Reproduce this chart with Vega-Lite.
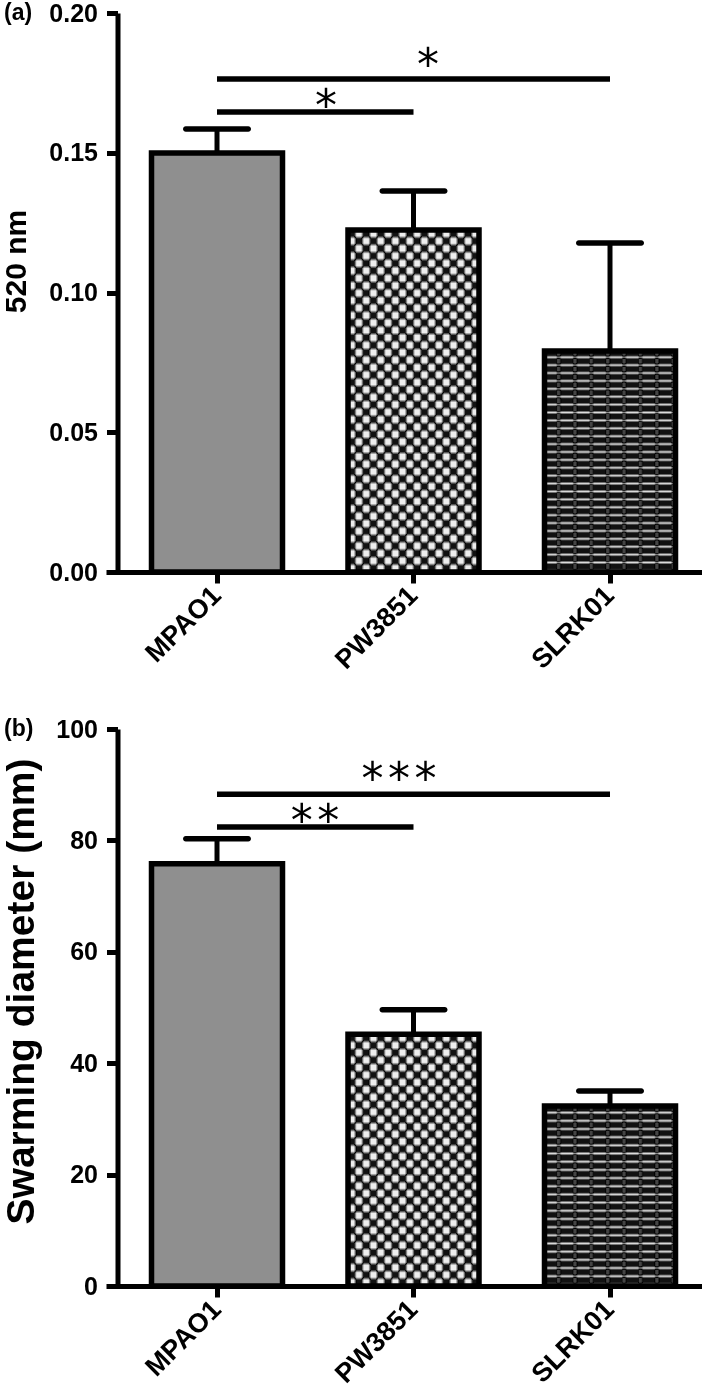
{
  "$schema": "https://vega.github.io/schema/vega-lite/v6.json",
  "padding": {"left": 1, "top": 1, "right": 0, "bottom": 0},
  "background": "white",
  "spacing": 43,
  "config": {
    "view": {"stroke": null},
    "font": "Liberation Sans",
    "axis": {"grid": false, "domainColor": "black", "domainWidth": 5, "tickColor": "black", "tickWidth": 5, "tickSize": 11, "labelFont": "Liberation Sans", "labelFontWeight": "bold", "labelColor": "black", "titleFont": "Liberation Sans", "titleFontWeight": "bold", "titleColor": "black"},
    "axisX": {"labelAngle": -45, "labelAlign": "right", "labelBaseline": "middle", "labelFontSize": 27, "labelPadding": 8},
    "axisY": {"labelFontSize": 25, "labelPadding": 9, "titleFontSize": 30, "titleBaseline": "middle", "offset": -11.5}
  },
  "resolve": {"scale": {"x": "independent", "y": "independent"}},
  "datasets": {
    "bars_a": [
      {"strain": "MPAO1", "mean": 0.1499, "upper": 0.1585},
      {"strain": "PW3851", "mean": 0.1224, "upper": 0.1363},
      {"strain": "SLRK01", "mean": 0.0791, "upper": 0.1177}
    ],
    "sig_a": [
      {"from": "MPAO1", "to": "PW3851", "y": 0.1646, "label": "*"},
      {"from": "MPAO1", "to": "SLRK01", "y": 0.1764, "label": "*"}
    ],
    "bars_b": [
      {"strain": "MPAO1", "mean": 75.8, "upper": 80.3},
      {"strain": "PW3851", "mean": 45.2, "upper": 49.6},
      {"strain": "SLRK01", "mean": 32.3, "upper": 35.0}
    ],
    "sig_b": [
      {"from": "MPAO1", "to": "PW3851", "y": 82.4, "label": "**"},
      {"from": "MPAO1", "to": "SLRK01", "y": 88.3, "label": "***"}
    ]
  },
  "vconcat": [
    {
      "width": 596,
      "height": 559,
      "title": {"text": "(a)", "anchor": "start", "frame": "group", "orient": "top", "offset": -23, "baseline": "middle", "dx": -102, "dy": 12, "fontSize": 23, "font": "Liberation Sans", "fontWeight": "bold", "color": "black"},
      "encoding": {
        "x": {"field": "strain", "type": "nominal", "sort": null,
          "scale": {"paddingInner": 0.3333, "paddingOuter": 0.1832, "align": 0.632},
          "axis": {"title": null}
        },
        "y": {"field": "mean", "type": "quantitative",
          "scale": {"domain": [0, 0.2], "nice": false},
          "axis": {"title": "520 nm", "values": [0, 0.05, 0.1, 0.15, 0.2], "format": ".2f", "titleX": -101.5, "titleY": 248}
        }
      },
      "layer": [
        {"data": {"name": "bars_a"}, "transform": [{"filter": "datum.strain === 'MPAO1'"}], "mark": {"type": "bar", "fill": "#8f8f8f", "strokeWidth": 0}},
        {"data": {"name": "bars_a"}, "transform": [{"filter": "datum.strain === 'PW3851'"}], "mark": {"type": "bar", "strokeWidth": 0, "fill": {"gradient": "linear", "x1": 0, "y1": 0, "x2": 0, "y2": 1, "stops": [
          {"offset": 0.0043, "color": "#111"}, {"offset": 0.0174, "color": "#111"}, {"offset": 0.0261, "color": "#eee"}, {"offset": 0.0391, "color": "#eee"},
          {"offset": 0.0478, "color": "#111"}, {"offset": 0.0609, "color": "#111"}, {"offset": 0.0696, "color": "#eee"}, {"offset": 0.0826, "color": "#eee"},
          {"offset": 0.0913, "color": "#111"}, {"offset": 0.1043, "color": "#111"}, {"offset": 0.1130, "color": "#eee"}, {"offset": 0.1261, "color": "#eee"},
          {"offset": 0.1348, "color": "#111"}, {"offset": 0.1478, "color": "#111"}, {"offset": 0.1565, "color": "#eee"}, {"offset": 0.1696, "color": "#eee"},
          {"offset": 0.1783, "color": "#111"}, {"offset": 0.1913, "color": "#111"}, {"offset": 0.2000, "color": "#eee"}, {"offset": 0.2130, "color": "#eee"},
          {"offset": 0.2217, "color": "#111"}, {"offset": 0.2348, "color": "#111"}, {"offset": 0.2435, "color": "#eee"}, {"offset": 0.2565, "color": "#eee"},
          {"offset": 0.2652, "color": "#111"}, {"offset": 0.2783, "color": "#111"}, {"offset": 0.2870, "color": "#eee"}, {"offset": 0.3000, "color": "#eee"},
          {"offset": 0.3087, "color": "#111"}, {"offset": 0.3217, "color": "#111"}, {"offset": 0.3304, "color": "#eee"}, {"offset": 0.3435, "color": "#eee"},
          {"offset": 0.3522, "color": "#111"}, {"offset": 0.3652, "color": "#111"}, {"offset": 0.3739, "color": "#eee"}, {"offset": 0.3870, "color": "#eee"},
          {"offset": 0.3957, "color": "#111"}, {"offset": 0.4087, "color": "#111"}, {"offset": 0.4174, "color": "#eee"}, {"offset": 0.4304, "color": "#eee"},
          {"offset": 0.4391, "color": "#111"}, {"offset": 0.4522, "color": "#111"}, {"offset": 0.4609, "color": "#eee"}, {"offset": 0.4739, "color": "#eee"},
          {"offset": 0.4826, "color": "#111"}, {"offset": 0.4957, "color": "#111"}, {"offset": 0.5043, "color": "#eee"}, {"offset": 0.5174, "color": "#eee"},
          {"offset": 0.5261, "color": "#111"}, {"offset": 0.5391, "color": "#111"}, {"offset": 0.5478, "color": "#eee"}, {"offset": 0.5609, "color": "#eee"},
          {"offset": 0.5696, "color": "#111"}, {"offset": 0.5826, "color": "#111"}, {"offset": 0.5913, "color": "#eee"}, {"offset": 0.6043, "color": "#eee"},
          {"offset": 0.6130, "color": "#111"}, {"offset": 0.6261, "color": "#111"}, {"offset": 0.6348, "color": "#eee"}, {"offset": 0.6478, "color": "#eee"},
          {"offset": 0.6565, "color": "#111"}, {"offset": 0.6696, "color": "#111"}, {"offset": 0.6783, "color": "#eee"}, {"offset": 0.6913, "color": "#eee"},
          {"offset": 0.7000, "color": "#111"}, {"offset": 0.7130, "color": "#111"}, {"offset": 0.7217, "color": "#eee"}, {"offset": 0.7348, "color": "#eee"},
          {"offset": 0.7435, "color": "#111"}, {"offset": 0.7565, "color": "#111"}, {"offset": 0.7652, "color": "#eee"}, {"offset": 0.7783, "color": "#eee"},
          {"offset": 0.7870, "color": "#111"}, {"offset": 0.8000, "color": "#111"}, {"offset": 0.8087, "color": "#eee"}, {"offset": 0.8217, "color": "#eee"},
          {"offset": 0.8304, "color": "#111"}, {"offset": 0.8435, "color": "#111"}, {"offset": 0.8522, "color": "#eee"}, {"offset": 0.8652, "color": "#eee"},
          {"offset": 0.8739, "color": "#111"}, {"offset": 0.8870, "color": "#111"}, {"offset": 0.8957, "color": "#eee"}, {"offset": 0.9087, "color": "#eee"},
          {"offset": 0.9174, "color": "#111"}, {"offset": 0.9304, "color": "#111"}, {"offset": 0.9391, "color": "#eee"}, {"offset": 0.9522, "color": "#eee"},
          {"offset": 0.9609, "color": "#111"}, {"offset": 0.9739, "color": "#111"}, {"offset": 0.9826, "color": "#eee"}, {"offset": 0.9957, "color": "#eee"}
        ]}}},
        {"data": {"name": "bars_a"}, "transform": [{"filter": "datum.strain === 'PW3851'"}], "mark": {"type": "bar", "strokeWidth": 0, "blend": "difference", "fill": {"gradient": "linear", "x1": 0, "y1": 0, "x2": 1, "y2": 0, "stops": [
          {"offset": 0.0111, "color": "#000"}, {"offset": 0.0444, "color": "#000"}, {"offset": 0.0667, "color": "#fff"}, {"offset": 0.1000, "color": "#fff"},
          {"offset": 0.1222, "color": "#000"}, {"offset": 0.1556, "color": "#000"}, {"offset": 0.1778, "color": "#fff"}, {"offset": 0.2111, "color": "#fff"},
          {"offset": 0.2333, "color": "#000"}, {"offset": 0.2667, "color": "#000"}, {"offset": 0.2889, "color": "#fff"}, {"offset": 0.3222, "color": "#fff"},
          {"offset": 0.3444, "color": "#000"}, {"offset": 0.3778, "color": "#000"}, {"offset": 0.4000, "color": "#fff"}, {"offset": 0.4333, "color": "#fff"},
          {"offset": 0.4556, "color": "#000"}, {"offset": 0.4889, "color": "#000"}, {"offset": 0.5111, "color": "#fff"}, {"offset": 0.5444, "color": "#fff"},
          {"offset": 0.5667, "color": "#000"}, {"offset": 0.6000, "color": "#000"}, {"offset": 0.6222, "color": "#fff"}, {"offset": 0.6556, "color": "#fff"},
          {"offset": 0.6778, "color": "#000"}, {"offset": 0.7111, "color": "#000"}, {"offset": 0.7333, "color": "#fff"}, {"offset": 0.7667, "color": "#fff"},
          {"offset": 0.7889, "color": "#000"}, {"offset": 0.8222, "color": "#000"}, {"offset": 0.8444, "color": "#fff"}, {"offset": 0.8778, "color": "#fff"},
          {"offset": 0.9000, "color": "#000"}, {"offset": 0.9333, "color": "#000"}, {"offset": 0.9556, "color": "#fff"}, {"offset": 0.9889, "color": "#fff"}
        ]}}},
        {"data": {"name": "bars_a"}, "transform": [{"filter": "datum.strain === 'SLRK01'"}], "mark": {"type": "bar", "strokeWidth": 0, "fill": {"gradient": "linear", "x1": 0, "y1": 0, "x2": 0, "y2": 1, "stops": [
          {"offset": 0.0018, "color": "#111"}, {"offset": 0.0196, "color": "#111"}, {"offset": 0.0286, "color": "#ddd"},
          {"offset": 0.0375, "color": "#111"}, {"offset": 0.0554, "color": "#111"}, {"offset": 0.0643, "color": "#ddd"},
          {"offset": 0.0732, "color": "#111"}, {"offset": 0.0911, "color": "#111"}, {"offset": 0.1000, "color": "#ddd"},
          {"offset": 0.1089, "color": "#111"}, {"offset": 0.1268, "color": "#111"}, {"offset": 0.1357, "color": "#ddd"},
          {"offset": 0.1446, "color": "#111"}, {"offset": 0.1625, "color": "#111"}, {"offset": 0.1714, "color": "#ddd"},
          {"offset": 0.1804, "color": "#111"}, {"offset": 0.1982, "color": "#111"}, {"offset": 0.2071, "color": "#ddd"},
          {"offset": 0.2161, "color": "#111"}, {"offset": 0.2339, "color": "#111"}, {"offset": 0.2429, "color": "#ddd"},
          {"offset": 0.2518, "color": "#111"}, {"offset": 0.2696, "color": "#111"}, {"offset": 0.2786, "color": "#ddd"},
          {"offset": 0.2875, "color": "#111"}, {"offset": 0.3054, "color": "#111"}, {"offset": 0.3143, "color": "#ddd"},
          {"offset": 0.3232, "color": "#111"}, {"offset": 0.3411, "color": "#111"}, {"offset": 0.3500, "color": "#ddd"},
          {"offset": 0.3589, "color": "#111"}, {"offset": 0.3768, "color": "#111"}, {"offset": 0.3857, "color": "#ddd"},
          {"offset": 0.3946, "color": "#111"}, {"offset": 0.4125, "color": "#111"}, {"offset": 0.4214, "color": "#ddd"},
          {"offset": 0.4304, "color": "#111"}, {"offset": 0.4482, "color": "#111"}, {"offset": 0.4571, "color": "#ddd"},
          {"offset": 0.4661, "color": "#111"}, {"offset": 0.4839, "color": "#111"}, {"offset": 0.4929, "color": "#ddd"},
          {"offset": 0.5018, "color": "#111"}, {"offset": 0.5196, "color": "#111"}, {"offset": 0.5286, "color": "#ddd"},
          {"offset": 0.5375, "color": "#111"}, {"offset": 0.5554, "color": "#111"}, {"offset": 0.5643, "color": "#ddd"},
          {"offset": 0.5732, "color": "#111"}, {"offset": 0.5911, "color": "#111"}, {"offset": 0.6000, "color": "#ddd"},
          {"offset": 0.6089, "color": "#111"}, {"offset": 0.6268, "color": "#111"}, {"offset": 0.6357, "color": "#ddd"},
          {"offset": 0.6446, "color": "#111"}, {"offset": 0.6625, "color": "#111"}, {"offset": 0.6714, "color": "#ddd"},
          {"offset": 0.6804, "color": "#111"}, {"offset": 0.6982, "color": "#111"}, {"offset": 0.7071, "color": "#ddd"},
          {"offset": 0.7161, "color": "#111"}, {"offset": 0.7339, "color": "#111"}, {"offset": 0.7429, "color": "#ddd"},
          {"offset": 0.7518, "color": "#111"}, {"offset": 0.7696, "color": "#111"}, {"offset": 0.7786, "color": "#ddd"},
          {"offset": 0.7875, "color": "#111"}, {"offset": 0.8054, "color": "#111"}, {"offset": 0.8143, "color": "#ddd"},
          {"offset": 0.8232, "color": "#111"}, {"offset": 0.8411, "color": "#111"}, {"offset": 0.8500, "color": "#ddd"},
          {"offset": 0.8589, "color": "#111"}, {"offset": 0.8768, "color": "#111"}, {"offset": 0.8857, "color": "#ddd"},
          {"offset": 0.8946, "color": "#111"}, {"offset": 0.9125, "color": "#111"}, {"offset": 0.9214, "color": "#ddd"},
          {"offset": 0.9304, "color": "#111"}, {"offset": 0.9482, "color": "#111"}, {"offset": 0.9571, "color": "#ddd"},
          {"offset": 0.9661, "color": "#111"}, {"offset": 0.9839, "color": "#111"}, {"offset": 0.9929, "color": "#ddd"}
        ]}}},
        {"data": {"name": "bars_a"}, "transform": [{"filter": "datum.strain === 'SLRK01'"}], "mark": {"type": "bar", "strokeWidth": 0, "blend": "difference", "fill": {"gradient": "linear", "x1": 0, "y1": 0, "x2": 1, "y2": 0, "stops": [
          {"offset": 0.0063, "color": "#000"}, {"offset": 0.0875, "color": "#000"}, {"offset": 0.1000, "color": "#555"}, {"offset": 0.1125, "color": "#555"},
          {"offset": 0.1313, "color": "#000"}, {"offset": 0.2125, "color": "#000"}, {"offset": 0.2250, "color": "#555"}, {"offset": 0.2375, "color": "#555"},
          {"offset": 0.2563, "color": "#000"}, {"offset": 0.3375, "color": "#000"}, {"offset": 0.3500, "color": "#555"}, {"offset": 0.3625, "color": "#555"},
          {"offset": 0.3813, "color": "#000"}, {"offset": 0.4625, "color": "#000"}, {"offset": 0.4750, "color": "#555"}, {"offset": 0.4875, "color": "#555"},
          {"offset": 0.5063, "color": "#000"}, {"offset": 0.5875, "color": "#000"}, {"offset": 0.6000, "color": "#555"}, {"offset": 0.6125, "color": "#555"},
          {"offset": 0.6313, "color": "#000"}, {"offset": 0.7125, "color": "#000"}, {"offset": 0.7250, "color": "#555"}, {"offset": 0.7375, "color": "#555"},
          {"offset": 0.7563, "color": "#000"}, {"offset": 0.8375, "color": "#000"}, {"offset": 0.8500, "color": "#555"}, {"offset": 0.8625, "color": "#555"},
          {"offset": 0.8813, "color": "#000"}, {"offset": 0.9625, "color": "#000"}, {"offset": 0.9750, "color": "#555"}, {"offset": 0.9875, "color": "#555"}
        ]}}},
        {"data": {"name": "bars_a"}, "mark": {"type": "bar", "fillOpacity": 0, "stroke": "black", "strokeWidth": 5.5, "strokeJoin": "miter"}},
        {"data": {"name": "bars_a"}, "mark": {"type": "rule", "color": "black", "strokeWidth": 5}, "encoding": {"y2": {"field": "upper"}}},
        {"data": {"name": "bars_a"}, "mark": {"type": "tick", "color": "black", "opacity": 1, "size": 68, "thickness": 5.5, "cornerRadius": 2.75}, "encoding": {"y": {"field": "upper", "type": "quantitative"}}},
        {"data": {"name": "sig_a"}, "mark": {"type": "rule", "color": "black", "strokeWidth": 5.5}, "encoding": {"x": {"field": "from", "type": "nominal"}, "x2": {"field": "to"}, "y": {"field": "y", "type": "quantitative"}}},
        {"data": {"name": "sig_a"}, "transform": [{"filter": "datum.to === 'PW3851'"}], "mark": {"type": "text", "color": "black", "font": "DejaVu Sans Mono", "fontSize": 44, "align": "center", "baseline": "alphabetic", "dy": 8.6}, "encoding": {"x": {"field": "from", "type": "nominal", "bandPosition": 1.332}, "y": {"field": "y", "type": "quantitative"}, "text": {"field": "label"}}},
        {"data": {"name": "sig_a"}, "transform": [{"filter": "datum.to === 'SLRK01'"}], "mark": {"type": "text", "color": "black", "font": "DejaVu Sans Mono", "fontSize": 44, "align": "center", "baseline": "alphabetic", "dy": 0.6}, "encoding": {"x": {"field": "from", "type": "nominal", "bandPosition": 2.111}, "y": {"field": "y", "type": "quantitative"}, "text": {"field": "label"}}}
      ]
    },
    {
      "width": 596,
      "height": 557,
      "title": {"text": "(b)", "anchor": "start", "frame": "group", "orient": "top", "offset": -23, "baseline": "middle", "dx": -102, "dy": 12, "fontSize": 23, "font": "Liberation Sans", "fontWeight": "bold", "color": "black"},
      "encoding": {
        "x": {"field": "strain", "type": "nominal", "sort": null,
          "scale": {"paddingInner": 0.3333, "paddingOuter": 0.1832, "align": 0.632},
          "axis": {"title": null}
        },
        "y": {"field": "mean", "type": "quantitative",
          "scale": {"domain": [0, 100], "nice": false},
          "axis": {"title": "Swarming diameter (mm)", "values": [0, 20, 40, 60, 80, 100], "titleX": -96.5, "titleY": 262, "titleFontSize": 39}
        }
      },
      "layer": [
        {"data": {"name": "bars_b"}, "transform": [{"filter": "datum.strain === 'MPAO1'"}], "mark": {"type": "bar", "fill": "#8f8f8f", "strokeWidth": 0}},
        {"data": {"name": "bars_b"}, "transform": [{"filter": "datum.strain === 'PW3851'"}], "mark": {"type": "bar", "strokeWidth": 0, "fill": {"gradient": "linear", "x1": 0, "y1": 0, "x2": 0, "y2": 1, "stops": [
          {"offset": 0.0059, "color": "#111"}, {"offset": 0.0235, "color": "#111"}, {"offset": 0.0353, "color": "#eee"}, {"offset": 0.0529, "color": "#eee"},
          {"offset": 0.0647, "color": "#111"}, {"offset": 0.0824, "color": "#111"}, {"offset": 0.0941, "color": "#eee"}, {"offset": 0.1118, "color": "#eee"},
          {"offset": 0.1235, "color": "#111"}, {"offset": 0.1412, "color": "#111"}, {"offset": 0.1529, "color": "#eee"}, {"offset": 0.1706, "color": "#eee"},
          {"offset": 0.1824, "color": "#111"}, {"offset": 0.2000, "color": "#111"}, {"offset": 0.2118, "color": "#eee"}, {"offset": 0.2294, "color": "#eee"},
          {"offset": 0.2412, "color": "#111"}, {"offset": 0.2588, "color": "#111"}, {"offset": 0.2706, "color": "#eee"}, {"offset": 0.2882, "color": "#eee"},
          {"offset": 0.3000, "color": "#111"}, {"offset": 0.3176, "color": "#111"}, {"offset": 0.3294, "color": "#eee"}, {"offset": 0.3471, "color": "#eee"},
          {"offset": 0.3588, "color": "#111"}, {"offset": 0.3765, "color": "#111"}, {"offset": 0.3882, "color": "#eee"}, {"offset": 0.4059, "color": "#eee"},
          {"offset": 0.4176, "color": "#111"}, {"offset": 0.4353, "color": "#111"}, {"offset": 0.4471, "color": "#eee"}, {"offset": 0.4647, "color": "#eee"},
          {"offset": 0.4765, "color": "#111"}, {"offset": 0.4941, "color": "#111"}, {"offset": 0.5059, "color": "#eee"}, {"offset": 0.5235, "color": "#eee"},
          {"offset": 0.5353, "color": "#111"}, {"offset": 0.5529, "color": "#111"}, {"offset": 0.5647, "color": "#eee"}, {"offset": 0.5824, "color": "#eee"},
          {"offset": 0.5941, "color": "#111"}, {"offset": 0.6118, "color": "#111"}, {"offset": 0.6235, "color": "#eee"}, {"offset": 0.6412, "color": "#eee"},
          {"offset": 0.6529, "color": "#111"}, {"offset": 0.6706, "color": "#111"}, {"offset": 0.6824, "color": "#eee"}, {"offset": 0.7000, "color": "#eee"},
          {"offset": 0.7118, "color": "#111"}, {"offset": 0.7294, "color": "#111"}, {"offset": 0.7412, "color": "#eee"}, {"offset": 0.7588, "color": "#eee"},
          {"offset": 0.7706, "color": "#111"}, {"offset": 0.7882, "color": "#111"}, {"offset": 0.8000, "color": "#eee"}, {"offset": 0.8176, "color": "#eee"},
          {"offset": 0.8294, "color": "#111"}, {"offset": 0.8471, "color": "#111"}, {"offset": 0.8588, "color": "#eee"}, {"offset": 0.8765, "color": "#eee"},
          {"offset": 0.8882, "color": "#111"}, {"offset": 0.9059, "color": "#111"}, {"offset": 0.9176, "color": "#eee"}, {"offset": 0.9353, "color": "#eee"},
          {"offset": 0.9471, "color": "#111"}, {"offset": 0.9647, "color": "#111"}, {"offset": 0.9765, "color": "#eee"}, {"offset": 0.9941, "color": "#eee"}
        ]}}},
        {"data": {"name": "bars_b"}, "transform": [{"filter": "datum.strain === 'PW3851'"}], "mark": {"type": "bar", "strokeWidth": 0, "blend": "difference", "fill": {"gradient": "linear", "x1": 0, "y1": 0, "x2": 1, "y2": 0, "stops": [
          {"offset": 0.0111, "color": "#000"}, {"offset": 0.0444, "color": "#000"}, {"offset": 0.0667, "color": "#fff"}, {"offset": 0.1000, "color": "#fff"},
          {"offset": 0.1222, "color": "#000"}, {"offset": 0.1556, "color": "#000"}, {"offset": 0.1778, "color": "#fff"}, {"offset": 0.2111, "color": "#fff"},
          {"offset": 0.2333, "color": "#000"}, {"offset": 0.2667, "color": "#000"}, {"offset": 0.2889, "color": "#fff"}, {"offset": 0.3222, "color": "#fff"},
          {"offset": 0.3444, "color": "#000"}, {"offset": 0.3778, "color": "#000"}, {"offset": 0.4000, "color": "#fff"}, {"offset": 0.4333, "color": "#fff"},
          {"offset": 0.4556, "color": "#000"}, {"offset": 0.4889, "color": "#000"}, {"offset": 0.5111, "color": "#fff"}, {"offset": 0.5444, "color": "#fff"},
          {"offset": 0.5667, "color": "#000"}, {"offset": 0.6000, "color": "#000"}, {"offset": 0.6222, "color": "#fff"}, {"offset": 0.6556, "color": "#fff"},
          {"offset": 0.6778, "color": "#000"}, {"offset": 0.7111, "color": "#000"}, {"offset": 0.7333, "color": "#fff"}, {"offset": 0.7667, "color": "#fff"},
          {"offset": 0.7889, "color": "#000"}, {"offset": 0.8222, "color": "#000"}, {"offset": 0.8444, "color": "#fff"}, {"offset": 0.8778, "color": "#fff"},
          {"offset": 0.9000, "color": "#000"}, {"offset": 0.9333, "color": "#000"}, {"offset": 0.9556, "color": "#fff"}, {"offset": 0.9889, "color": "#fff"}
        ]}}},
        {"data": {"name": "bars_b"}, "transform": [{"filter": "datum.strain === 'SLRK01'"}], "mark": {"type": "bar", "strokeWidth": 0, "fill": {"gradient": "linear", "x1": 0, "y1": 0, "x2": 0, "y2": 1, "stops": [
          {"offset": 0.0023, "color": "#111"}, {"offset": 0.0250, "color": "#111"}, {"offset": 0.0364, "color": "#ddd"},
          {"offset": 0.0477, "color": "#111"}, {"offset": 0.0705, "color": "#111"}, {"offset": 0.0818, "color": "#ddd"},
          {"offset": 0.0932, "color": "#111"}, {"offset": 0.1159, "color": "#111"}, {"offset": 0.1273, "color": "#ddd"},
          {"offset": 0.1386, "color": "#111"}, {"offset": 0.1614, "color": "#111"}, {"offset": 0.1727, "color": "#ddd"},
          {"offset": 0.1841, "color": "#111"}, {"offset": 0.2068, "color": "#111"}, {"offset": 0.2182, "color": "#ddd"},
          {"offset": 0.2295, "color": "#111"}, {"offset": 0.2523, "color": "#111"}, {"offset": 0.2636, "color": "#ddd"},
          {"offset": 0.2750, "color": "#111"}, {"offset": 0.2977, "color": "#111"}, {"offset": 0.3091, "color": "#ddd"},
          {"offset": 0.3205, "color": "#111"}, {"offset": 0.3432, "color": "#111"}, {"offset": 0.3545, "color": "#ddd"},
          {"offset": 0.3659, "color": "#111"}, {"offset": 0.3886, "color": "#111"}, {"offset": 0.4000, "color": "#ddd"},
          {"offset": 0.4114, "color": "#111"}, {"offset": 0.4341, "color": "#111"}, {"offset": 0.4455, "color": "#ddd"},
          {"offset": 0.4568, "color": "#111"}, {"offset": 0.4795, "color": "#111"}, {"offset": 0.4909, "color": "#ddd"},
          {"offset": 0.5023, "color": "#111"}, {"offset": 0.5250, "color": "#111"}, {"offset": 0.5364, "color": "#ddd"},
          {"offset": 0.5477, "color": "#111"}, {"offset": 0.5705, "color": "#111"}, {"offset": 0.5818, "color": "#ddd"},
          {"offset": 0.5932, "color": "#111"}, {"offset": 0.6159, "color": "#111"}, {"offset": 0.6273, "color": "#ddd"},
          {"offset": 0.6386, "color": "#111"}, {"offset": 0.6614, "color": "#111"}, {"offset": 0.6727, "color": "#ddd"},
          {"offset": 0.6841, "color": "#111"}, {"offset": 0.7068, "color": "#111"}, {"offset": 0.7182, "color": "#ddd"},
          {"offset": 0.7295, "color": "#111"}, {"offset": 0.7523, "color": "#111"}, {"offset": 0.7636, "color": "#ddd"},
          {"offset": 0.7750, "color": "#111"}, {"offset": 0.7977, "color": "#111"}, {"offset": 0.8091, "color": "#ddd"},
          {"offset": 0.8205, "color": "#111"}, {"offset": 0.8432, "color": "#111"}, {"offset": 0.8545, "color": "#ddd"},
          {"offset": 0.8659, "color": "#111"}, {"offset": 0.8886, "color": "#111"}, {"offset": 0.9000, "color": "#ddd"},
          {"offset": 0.9114, "color": "#111"}, {"offset": 0.9341, "color": "#111"}, {"offset": 0.9455, "color": "#ddd"},
          {"offset": 0.9568, "color": "#111"}, {"offset": 0.9795, "color": "#111"}, {"offset": 0.9909, "color": "#ddd"}
        ]}}},
        {"data": {"name": "bars_b"}, "transform": [{"filter": "datum.strain === 'SLRK01'"}], "mark": {"type": "bar", "strokeWidth": 0, "blend": "difference", "fill": {"gradient": "linear", "x1": 0, "y1": 0, "x2": 1, "y2": 0, "stops": [
          {"offset": 0.0063, "color": "#000"}, {"offset": 0.0875, "color": "#000"}, {"offset": 0.1000, "color": "#555"}, {"offset": 0.1125, "color": "#555"},
          {"offset": 0.1313, "color": "#000"}, {"offset": 0.2125, "color": "#000"}, {"offset": 0.2250, "color": "#555"}, {"offset": 0.2375, "color": "#555"},
          {"offset": 0.2563, "color": "#000"}, {"offset": 0.3375, "color": "#000"}, {"offset": 0.3500, "color": "#555"}, {"offset": 0.3625, "color": "#555"},
          {"offset": 0.3813, "color": "#000"}, {"offset": 0.4625, "color": "#000"}, {"offset": 0.4750, "color": "#555"}, {"offset": 0.4875, "color": "#555"},
          {"offset": 0.5063, "color": "#000"}, {"offset": 0.5875, "color": "#000"}, {"offset": 0.6000, "color": "#555"}, {"offset": 0.6125, "color": "#555"},
          {"offset": 0.6313, "color": "#000"}, {"offset": 0.7125, "color": "#000"}, {"offset": 0.7250, "color": "#555"}, {"offset": 0.7375, "color": "#555"},
          {"offset": 0.7563, "color": "#000"}, {"offset": 0.8375, "color": "#000"}, {"offset": 0.8500, "color": "#555"}, {"offset": 0.8625, "color": "#555"},
          {"offset": 0.8813, "color": "#000"}, {"offset": 0.9625, "color": "#000"}, {"offset": 0.9750, "color": "#555"}, {"offset": 0.9875, "color": "#555"}
        ]}}},
        {"data": {"name": "bars_b"}, "mark": {"type": "bar", "fillOpacity": 0, "stroke": "black", "strokeWidth": 5.5, "strokeJoin": "miter"}},
        {"data": {"name": "bars_b"}, "mark": {"type": "rule", "color": "black", "strokeWidth": 5}, "encoding": {"y2": {"field": "upper"}}},
        {"data": {"name": "bars_b"}, "mark": {"type": "tick", "color": "black", "opacity": 1, "size": 68, "thickness": 5.5, "cornerRadius": 2.75}, "encoding": {"y": {"field": "upper", "type": "quantitative"}}},
        {"data": {"name": "sig_b"}, "mark": {"type": "rule", "color": "black", "strokeWidth": 5.5}, "encoding": {"x": {"field": "from", "type": "nominal"}, "x2": {"field": "to"}, "y": {"field": "y", "type": "quantitative"}}},
        {"data": {"name": "sig_b"}, "transform": [{"filter": "datum.to === 'PW3851'"}], "mark": {"type": "text", "color": "black", "font": "DejaVu Sans Mono", "fontSize": 44, "align": "center", "baseline": "alphabetic", "dy": 9.1}, "encoding": {"x": {"field": "from", "type": "nominal", "bandPosition": 1.248}, "y": {"field": "y", "type": "quantitative"}, "text": {"field": "label"}}},
        {"data": {"name": "sig_b"}, "transform": [{"filter": "datum.to === 'SLRK01'"}], "mark": {"type": "text", "color": "black", "font": "DejaVu Sans Mono", "fontSize": 44, "align": "center", "baseline": "alphabetic", "dy": 0.1}, "encoding": {"x": {"field": "from", "type": "nominal", "bandPosition": 1.889}, "y": {"field": "y", "type": "quantitative"}, "text": {"field": "label"}}}
      ]
    }
  ]
}
